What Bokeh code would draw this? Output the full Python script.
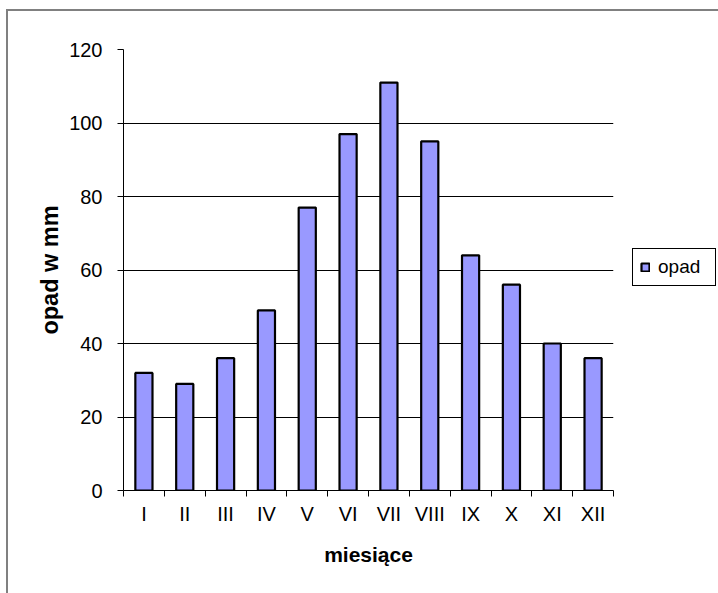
from bokeh.plotting import figure
from bokeh.models import FixedTicker, ColumnDataSource, Legend, LegendItem, Range1d
from bokeh.embed import file_html
from bokeh.resources import INLINE

# ---- data ----
months = ["I", "II", "III", "IV", "V", "VI", "VII", "VIII", "IX", "X", "XI", "XII"]
rain_mm = [32, 29, 36, 49, 77, 97, 111, 95, 64, 56, 40, 36]
y_ticks = [0, 20, 40, 60, 80, 100, 120]
series_name = "opad"
x_title = "miesiące"
y_title = "opad w mm"

FONT = "Liberation Sans"
pos = list(range(1, len(months) + 1))
src = ColumnDataSource(dict(x=pos, top=rain_mm, month=months))

p = figure(frame_width=490, frame_height=441, output_backend="svg", toolbar_location=None,
           x_range=Range1d(0.5, len(months) + 0.5), y_range=Range1d(0, 120),
           min_border_left=115, min_border_right=105, min_border_top=38,
           min_border_bottom=103)
p.styles = {"margin-left": "6px", "margin-top": "9px",
            "border-left": "2px solid #808080", "border-top": "2px solid #808080"}
p.outline_line_color = None
p.background_fill_color = "white"
p.border_fill_color = "white"

r = p.vbar(x="x", top="top", width=0.42, source=src, fill_color="#9999FF",
           line_color="black", line_width=2.2)

# x axis
xa = p.xaxis[0]
xa.ticker = FixedTicker(ticks=pos, minor_ticks=[i + 0.5 for i in range(len(months) + 1)])
xa.major_label_overrides = {i: m for i, m in zip(pos, months)}
xa.major_tick_line_color = None
xa.major_tick_out = 0
xa.major_tick_in = 0
xa.minor_tick_line_color = "black"
xa.minor_tick_out = 6
xa.minor_tick_in = 0
xa.axis_line_color = "black"
xa.major_label_text_font = FONT
xa.major_label_text_font_size = "20px"
xa.major_label_text_color = "black"
xa.major_label_standoff = 6
xa.axis_label = x_title
xa.axis_label_text_font = FONT
xa.axis_label_text_font_style = "bold"
xa.axis_label_text_font_size = "21px"
xa.axis_label_text_color = "black"
xa.axis_label_standoff = 15

# y axis
ya = p.yaxis[0]
ya.ticker = FixedTicker(ticks=y_ticks)
ya.minor_tick_line_color = None
ya.major_tick_in = 0
ya.major_tick_out = 6
ya.major_tick_line_color = "black"
ya.axis_line_color = "black"
ya.major_label_text_font = FONT
ya.major_label_text_font_size = "20px"
ya.major_label_text_color = "black"
ya.major_label_standoff = 15
ya.axis_label = y_title
ya.axis_label_text_font = FONT
ya.axis_label_text_font_style = "bold"
ya.axis_label_text_font_size = "23.5px"
ya.axis_label_text_color = "black"
ya.axis_label_standoff = 3

p.xgrid.visible = False
p.ygrid.ticker = FixedTicker(ticks=y_ticks)
p.ygrid.grid_line_color = "black"
p.ygrid.grid_line_width = 1

legend = Legend(items=[LegendItem(label=series_name, renderers=[r])],
                location=(19, 204), padding=7, spacing=0, margin=0,
                glyph_width=10, glyph_height=10, label_standoff=8, label_width=50,
                border_line_color="black", border_line_width=1, border_line_alpha=1,
                background_fill_color="white", background_fill_alpha=1,
                label_text_font=FONT, label_text_font_size="19px",
                label_text_color="black")
p.add_layout(legend, "right")

open("out.html", "w").write(file_html(p, INLINE))
